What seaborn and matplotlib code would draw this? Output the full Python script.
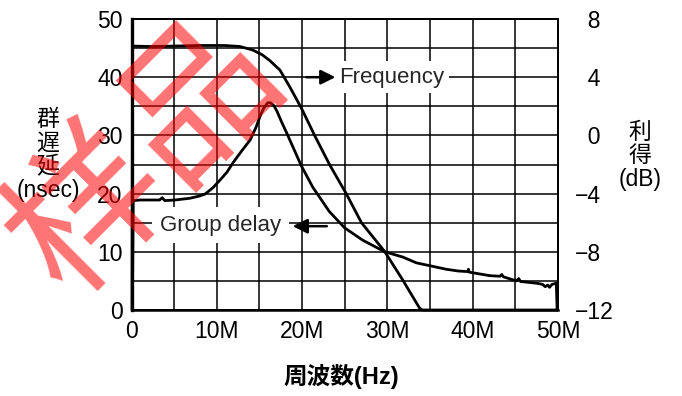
import matplotlib
matplotlib.use("Agg")
import matplotlib.pyplot as plt
import numpy as np
import pandas as pd
import seaborn as sns

# Group delay trace (left axis, nsec) versus frequency in MHz
delay_freq_mhz = [0.10, 0.20, 1.0, 2.2, 3.3, 3.6, 3.9, 5.1, 6.85, 8.0, 8.6, 9.54,
                  10.36, 11.2, 11.9, 12.9, 13.9, 14.6, 15.05, 15.5, 15.98, 16.3,
                  16.7, 17.04, 17.6, 18.2, 19.9, 21.25, 23.2, 25.0, 27.1, 29.7,
                  31.8, 33.4, 35.0, 36.9, 38.3, 39.4, 39.5, 39.6, 40.0, 42.0,
                  43.2, 43.4, 43.6, 45.1, 45.4, 45.6, 47.5, 48.2, 48.5, 48.8,
                  49.0, 49.3, 49.8, 49.9]
delay_nsec = [0.0, 18.8, 18.9, 18.9, 18.9, 19.3, 18.8, 18.9, 19.2, 19.6, 19.9, 21.0,
              22.3, 23.7, 25.3, 27.3, 29.2, 31.4, 33.2, 34.7, 35.6, 35.6,
              35.1, 34.2, 32.3, 30.4, 24.8, 21.1, 16.9, 14.1, 12.0, 10.0,
              9.1, 8.1, 7.6, 7.0, 6.7, 6.6, 7.0, 6.5, 6.4, 5.9,
              5.8, 6.1, 5.7, 5.0, 5.4, 4.9, 4.6, 4.4, 4.0, 4.3,
              3.9, 4.4, 4.6, 0.0]

# Gain trace (right axis, dB) versus frequency in MHz
gain_freq_mhz = [0.06, 0.12, 2.2, 5.1, 8.0, 10.9, 12.7, 14.2, 15.3, 16.2, 17.4,
                 18.56, 19.93, 21.5, 23.24, 25.2, 26.96, 29.69, 31.8, 33.78,
                 34.1, 49.94]
gain_db = [-12.0, 6.14, 6.11, 6.14, 6.18, 6.18, 6.11, 5.87, 5.55, 5.15, 4.49,
           3.33, 1.86, -0.04, -2.03, -4.03, -6.0, -7.99, -9.94, -11.88,
           -12.0, -12.0]

freq_ticks = [0, 10, 20, 30, 40, 50]
freq_tick_labels = ["0", "10M", "20M", "30M", "40M", "50M"]
delay_ticks = [0, 10, 20, 30, 40, 50]
gain_ticks = [-12, -8, -4, 0, 4, 8]

delay_df = pd.DataFrame({"freq": delay_freq_mhz, "delay": delay_nsec})
gain_df = pd.DataFrame({"freq": gain_freq_mhz, "gain": gain_db})

sns.set_theme(style="white")
plt.rcParams["font.family"] = ["Liberation Sans", "Noto Sans CJK JP"]
plt.rcParams["axes.unicode_minus"] = True

W, H = 682, 396
fig = plt.figure(figsize=(W / 100, H / 100), dpi=100)
left, right, top, bottom = 131.5, 558, 19, 310
ax = fig.add_axes([left / W, 1 - bottom / H, (right - left) / W, (bottom - top) / H])
ax2 = ax.twinx()

line_kw = dict(color="black", linewidth=2.0, sort=False, estimator=None, legend=False)
sns.lineplot(data=delay_df, x="freq", y="delay", ax=ax, zorder=4, **line_kw)
sns.lineplot(data=gain_df, x="freq", y="gain", ax=ax2, zorder=4, **line_kw)
for ln in ax.lines + ax2.lines:
    ln.set_clip_on(False)
    ln.set_solid_joinstyle("round")

ax.set_xlim(0, 50)
ax.set_ylim(0, 50)
ax2.set_ylim(-12, 8)

ax.set_xticks(freq_ticks)
ax.set_xticklabels(freq_tick_labels)
ax.set_xticks(np.arange(0, 51, 5), minor=True)
ax.set_yticks(delay_ticks)
ax.set_yticks(np.arange(0, 51, 5), minor=True)
ax2.set_yticks(gain_ticks)
ax2.set_yticklabels([("\u2212" + str(-v)) if v < 0 else ("\u2007" + str(v)) for v in gain_ticks])

ax.grid(True, which="both", color="black", linewidth=1.1)
ax2.grid(False)
ax.set_axisbelow(True)

ax.tick_params(axis="x", which="both", length=0, pad=7, labelsize=16.5, colors="black")
ax.tick_params(axis="y", which="both", length=0, pad=6.5, labelsize=16.5, colors="black")
ax2.tick_params(axis="y", which="both", length=0, pad=12, labelsize=16.5, colors="black")
ax.set_xlabel("")
ax.set_ylabel("")
ax2.set_ylabel("")

for a in (ax, ax2):
    for s in a.spines.values():
        s.set_color("black")
        s.set_linewidth(1.4)
ax.spines["left"].set_linewidth(2.4)
ax.spines["bottom"].set_linewidth(1.8)

# Curve labels with pointer arrows
box = dict(boxstyle="square,pad=0.25", facecolor="white", edgecolor="none")
ax.text(24.3, 40.0, "Frequency", fontsize=16, ha="left", va="center",
        bbox=box, zorder=5)
ax.annotate("", xy=(23.9, 40.0), xytext=(20.5, 40.0),
            arrowprops=dict(arrowstyle="-|>", color="black", lw=1.8,
                            mutation_scale=22, shrinkA=0, shrinkB=0), zorder=6)
ax.text(3.3, 14.6, "Group delay", fontsize=16, ha="left", va="center",
        bbox=dict(boxstyle="square,pad=0.35", facecolor="white", edgecolor="none"),
        zorder=5)
ax.annotate("", xy=(18.9, 14.4), xytext=(22.9, 14.4),
            arrowprops=dict(arrowstyle="-|>", color="black", lw=1.8,
                            mutation_scale=22, shrinkA=0, shrinkB=0), zorder=6)

# Axis titles
fig.text(48 / W, 1 - 155 / H, "群\n遅\n延\n(nsec)", ha="center", va="center",
         fontsize=16.5, linespacing=1.05, color="black")
fig.text(640 / W, 1 - 156 / H, "利\n得\n(dB)", ha="center", va="center",
         fontsize=16.5, linespacing=1.05, color="black")
fig.text(341 / W, 1 - 376 / H, "周波数(Hz)", ha="center", va="center",
         fontsize=17, fontweight="bold", color="black")

# Sample stamp across the upper left
fig.text(146 / W, 1 - 158 / H, "样品", rotation=45, rotation_mode="anchor",
         ha="center", va="center", fontsize=112, fontweight="normal",
         color="red", alpha=0.55, family=["Noto Sans CJK SC"], zorder=10)

fig.savefig("out.png", dpi=100)
